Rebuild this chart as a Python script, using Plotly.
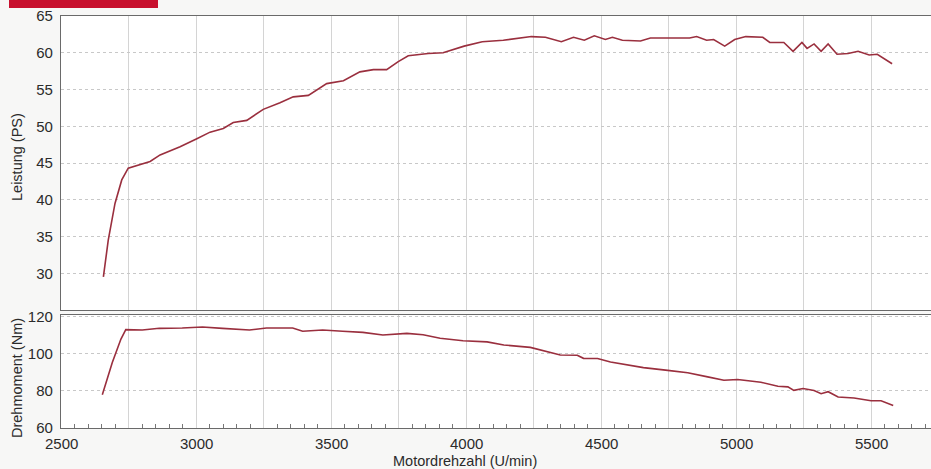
import plotly.graph_objects as go

# Power curve (PS) vs engine speed (U/min)
power_rpm = [2657, 2675, 2700, 2725, 2749, 2786, 2830, 2867, 2941, 3003, 3052, 3101,
             3138, 3188, 3249, 3311, 3360, 3416, 3484, 3546, 3607, 3657, 3706, 3749,
             3786, 3860, 3915, 3993, 4060, 4138, 4242, 4294, 4353, 4398, 4438, 4475,
             4516, 4542, 4579, 4646, 4683, 4724, 4828, 4854, 4891, 4917, 4958, 4995,
             5036, 5099, 5125, 5177, 5211, 5244, 5263, 5289, 5315, 5341, 5374, 5415,
             5452, 5493, 5523, 5578]
power_ps = [29.5, 34.5, 39.5, 42.7, 44.3, 44.7, 45.2, 46.1, 47.2, 48.3, 49.2, 49.7,
            50.5, 50.8, 52.3, 53.2, 54.0, 54.2, 55.8, 56.2, 57.4, 57.7, 57.7, 58.8,
            59.6, 59.9, 60.0, 60.9, 61.5, 61.7, 62.2, 62.1, 61.5, 62.1, 61.7, 62.3,
            61.8, 62.1, 61.7, 61.6, 62.0, 62.0, 62.0, 62.2, 61.7, 61.8, 60.9, 61.8,
            62.2, 62.1, 61.4, 61.4, 60.2, 61.4, 60.6, 61.2, 60.2, 61.2, 59.8, 59.9,
            60.2, 59.7, 59.8, 58.5]

# Torque curve (Nm) vs engine speed (U/min)
torque_rpm = [2653, 2690, 2722, 2740, 2801, 2864, 2949, 3024, 3098, 3198, 3261, 3358,
              3395, 3469, 3543, 3618, 3692, 3781, 3841, 3904, 3989, 4078, 4140, 4238,
              4349, 4412, 4435, 4487, 4535, 4657, 4747, 4821, 4895, 4955, 5006, 5092,
              5155, 5192, 5214, 5248, 5289, 5315, 5341, 5378, 5437, 5500, 5537, 5582]
torque_nm = [78.0, 95.3, 108.0, 113.1, 112.9, 113.8, 114.0, 114.5, 113.8, 112.9, 114.0, 114.0,
             112.2, 112.9, 112.2, 111.6, 110.2, 111.1, 110.3, 108.4, 107.1, 106.5, 104.8, 103.5,
             99.4, 99.3, 97.6, 97.5, 95.6, 92.6, 91.1, 89.8, 87.6, 85.8, 86.2, 84.7,
             82.5, 82.2, 80.3, 81.3, 80.2, 78.5, 79.6, 76.7, 76.2, 74.7, 74.7, 72.2]

x_tickvals = [2500, 3000, 3500, 4000, 4500, 5000, 5500]
power_ticks = [30, 35, 40, 45, 50, 55, 60, 65]
torque_ticks = [60, 80, 100, 120]

line_color = "#9a2f3e"
font_family = "Liberation Sans, Arial, sans-serif"
text_color = "#2b2b2b"
tick_font = dict(family=font_family, size=15, color=text_color)
title_font = dict(family=font_family, size=14.5, color=text_color)

fig = go.Figure()
fig.add_trace(go.Scatter(x=power_rpm, y=power_ps, mode="lines",
                         line=dict(color=line_color, width=1.6),
                         xaxis="x2", yaxis="y", hoverinfo="skip", showlegend=False))
fig.add_trace(go.Scatter(x=torque_rpm, y=torque_nm, mode="lines",
                         line=dict(color=line_color, width=1.6),
                         xaxis="x", yaxis="y2", hoverinfo="skip", showlegend=False))

xr = [2500, 5722]
common_x = dict(range=xr, showgrid=True, gridcolor="#d4d4d4", gridwidth=1,
                dtick=250, tick0=2500, zeroline=False, showline=True,
                linecolor="#6a6a6a", linewidth=1.2, mirror=True)

fig.update_layout(
    width=931, height=469,
    margin=dict(l=61, r=0, t=16, b=41),
    paper_bgcolor="#f7f7f6",
    plot_bgcolor="#ffffff",
    font=dict(family=font_family, color=text_color),
    xaxis=dict(**common_x, anchor="y2", showticklabels=False, ticks="",
               minor=dict(dtick=50, ticks="inside", ticklen=4, tickcolor="#777", showgrid=False)),
    xaxis2=dict(**common_x, anchor="y", matches="x", showticklabels=False, ticks=""),
    yaxis=dict(domain=[0.2864, 1.0], range=[25, 65], tickvals=power_ticks,
               showgrid=True, gridcolor="#c8c8c8", griddash="dot", zeroline=False,
               showline=True, linecolor="#6a6a6a", linewidth=1.2, mirror=True,
               tickfont=tick_font, ticks="", ticklabelstandoff=4),
    yaxis2=dict(domain=[0.0, 0.2743], range=[60, 121], tickvals=torque_ticks,
                showgrid=True, gridcolor="#c8c8c8", griddash="dot", zeroline=False,
                showline=True, linecolor="#6a6a6a", linewidth=1.2, mirror=True,
                tickfont=tick_font, ticks="", ticklabelstandoff=4),
)

def px_x(p):
    return (p - 61) / 870

def px_y(p):
    return (428 - p) / 412

# x tick labels under the bottom panel (values taken from x_tickvals)
for v in x_tickvals:
    fig.add_annotation(x=v, y=0, xref="x", yref="paper", yshift=-15,
                       xanchor="center", yanchor="middle",
                       text=str(v), showarrow=False, font=tick_font)

fig.add_annotation(x=px_x(465), y=px_y(461), xref="paper", yref="paper",
                   xanchor="center", yanchor="middle",
                   text="Motordrehzahl (U/min)", showarrow=False, font=title_font)
fig.add_annotation(x=px_x(17), y=px_y(157), xref="paper", yref="paper",
                   xanchor="center", yanchor="middle",
                   text="Leistung (PS)", textangle=-90, showarrow=False, font=title_font)
fig.add_annotation(x=px_x(17), y=px_y(378), xref="paper", yref="paper",
                   xanchor="center", yanchor="middle",
                   text="Drehmoment (Nm)", textangle=-90, showarrow=False, font=title_font)

# red header banner (cut off at top of scan)
fig.add_shape(type="rect", xref="paper", yref="paper",
              x0=px_x(9), x1=px_x(158), y0=px_y(8), y1=px_y(-1),
              fillcolor="#c8102e", line=dict(width=0), layer="above")

fig.write_html("out.html")
